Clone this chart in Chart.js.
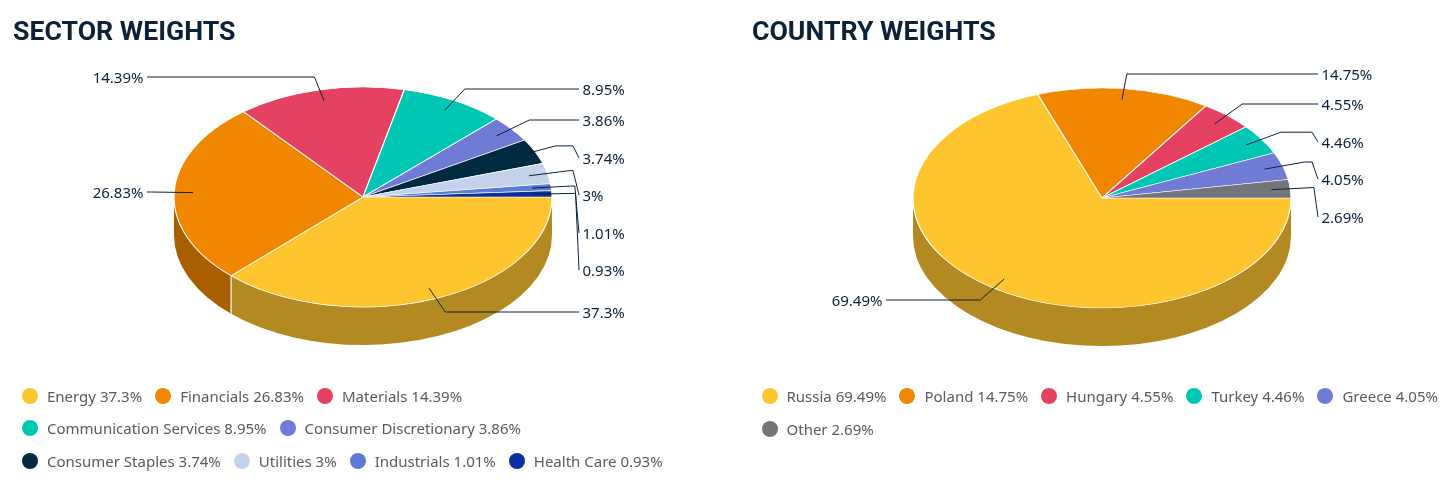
<!DOCTYPE html>
<html>
<head>
<meta charset="utf-8">
<script src="https://cdn.jsdelivr.net/npm/chart.js@4"></script>
<style>
html,body{margin:0;padding:0;background:#fff;width:1448px;height:483px;overflow:hidden;position:relative}
canvas{position:absolute;top:0}
.legend{position:absolute;display:flex;flex-wrap:wrap;font:15px "Noto Sans",sans-serif;color:#555b62}
.item{display:flex;align-items:center;height:32.5px;margin-right:13px;white-space:nowrap}
.dot{width:16px;height:16px;border-radius:50%;margin-right:9px;flex:none}
</style>
</head>
<body>
<canvas id="c1" style="left:0" width="724" height="483"></canvas>
<canvas id="c2" style="left:739px" width="724" height="483"></canvas>
<div class="legend" id="l1" style="left:22px;top:379.5px;width:690px"></div>
<div class="legend" id="l2" style="left:761.5px;top:380px;width:690px"></div>
<script>
const sectorCategories = ["Energy","Financials","Materials","Communication Services","Consumer Discretionary","Consumer Staples","Utilities","Industrials","Health Care"];
const sectorValues = [37.3,26.83,14.39,8.95,3.86,3.74,3,1.01,0.93];
const sectorColors = ["#FFC52F","#F18700","#E54263","#00C7B4","#6F7BD4","#002A3F","#C5D2EC","#5C7BD8","#0B2FA0"];
const sectorLabelRows = [312,192,77,89,120,158,195,233,270];

const countryCategories = ["Russia","Poland","Hungary","Turkey","Greece","Other"];
const countryValues = [69.49,14.75,4.55,4.46,4.05,2.69];
const countryColors = ["#FFC52F","#F18700","#E54263","#00C7B4","#6F7BD4","#727679"];
const countryLabelRows = [300,74,104,142,179,217];

const INK = "#0B2239";
const TILT = 110 / 189, DEPTH = 38;

function darken(hex, f) {
  const n = parseInt(hex.slice(1), 16);
  return `rgb(${Math.round((n >> 16) * f)},${Math.round(((n >> 8) & 255) * f)},${Math.round((n & 255) * f)})`;
}

const pie3d = {
  id: "pie3d",
  beforeDatasetsDraw(chart, args, opts) {
    const ctx = chart.ctx, arcs = chart.getDatasetMeta(0).data, colors = chart.data.datasets[0].backgroundColor;
    const cx = arcs[0].x, R = arcs[0].outerRadius, ry = R * TILT, cy = opts.centerY;
    arcs.forEach((a, i) => {
      const s = Math.max(a.startAngle, 0), e = Math.min(a.endAngle, Math.PI);
      if (e <= s) return;
      ctx.beginPath();
      ctx.ellipse(cx, cy, R, ry, 0, s, e);
      ctx.ellipse(cx, cy + DEPTH, R, ry, 0, e, s, true);
      ctx.closePath();
      ctx.fillStyle = darken(colors[i], 0.7);
      ctx.fill();
    });
    arcs.forEach(a => {
      const t = a.endAngle;
      if (t > 0.01 && t < Math.PI - 0.01) {
        const x = cx + R * Math.cos(t), y = cy + ry * Math.sin(t);
        ctx.beginPath(); ctx.moveTo(x, y); ctx.lineTo(x, y + DEPTH);
        ctx.strokeStyle = "rgba(255,255,255,0.75)"; ctx.lineWidth = 1.5; ctx.stroke();
      }
    });
    ctx.save();
    ctx.translate(cx, cy); ctx.scale(1, TILT); ctx.translate(-cx, -arcs[0].y);
  },
  afterDatasetsDraw(chart, args, opts) {
    const ctx = chart.ctx, arcs = chart.getDatasetMeta(0).data, vals = chart.data.datasets[0].data;
    ctx.restore();
    const cx = arcs[0].x, R = arcs[0].outerRadius, cy = opts.centerY;
    ctx.save();
    ctx.strokeStyle = INK; ctx.lineWidth = 1; ctx.fillStyle = INK;
    ctx.font = '15px "Noto Sans", sans-serif'; ctx.textBaseline = "middle";
    arcs.forEach((a, i) => {
      const m = (a.startAngle + a.endAngle) / 2, c = Math.cos(m), sn = Math.sin(m);
      const side = c >= 0 ? 1 : -1, row = opts.rows[i];
      const ax = cx + R * 0.9 * c, ay = cy + R * 0.9 * TILT * sn;
      const ex = cx + R * 1.12 * c; let ey = cy + R * 1.12 * TILT * sn;
      if (Math.abs(ey - row) < 3) ey = row;
      const hx = cx + side * Math.max(210, Math.abs(ex - cx) + 1), tx = cx + side * 216;
      ctx.beginPath(); ctx.moveTo(ax, ay); ctx.lineTo(ex, ey); ctx.lineTo(hx, ey); ctx.lineTo(tx, row); ctx.stroke();
      ctx.textAlign = side > 0 ? "left" : "right";
      ctx.fillText(vals[i] + "%", cx + side * 219.5, row + 1.5);
    });
    ctx.restore();
  }
};

function makeChart(id, title, categories, values, colors, rows, centerY, pad) {
  new Chart(document.getElementById(id), {
    type: "pie",
    data: { labels: categories, datasets: [{ data: values, backgroundColor: colors, borderColor: "#fff", borderWidth: 1.2, clip: false }] },
    options: {
      responsive: false, animation: false, rotation: 90, radius: 189,
      layout: { padding: { left: pad[0], right: pad[1], top: 0, bottom: 100 } },
      plugins: {
        legend: { display: false },
        tooltip: { enabled: false },
        title: { display: true, text: title, align: "start", color: INK, font: { family: "Roboto", weight: "bold", size: 26.7 }, padding: { top: 17, bottom: 10 } },
        pie3d: { rows, centerY }
      }
    },
    plugins: [pie3d]
  });
}

function makeLegend(id, categories, values, colors) {
  const box = document.getElementById(id);
  categories.forEach((name, i) => {
    const it = document.createElement("div"); it.className = "item";
    const d = document.createElement("span"); d.className = "dot"; d.style.background = colors[i];
    const t = document.createElement("span"); t.textContent = name + " " + values[i] + "%";
    it.append(d, t); box.append(it);
  });
}

makeChart("c1", "SECTOR WEIGHTS", sectorCategories, sectorValues, sectorColors, sectorLabelRows, 197, [13, 11]);
makeChart("c2", "COUNTRY WEIGHTS", countryCategories, countryValues, countryColors, countryLabelRows, 198, [13, 11]);
makeLegend("l1", sectorCategories, sectorValues, sectorColors);
makeLegend("l2", countryCategories, countryValues, countryColors);
</script>
</body>
</html>
